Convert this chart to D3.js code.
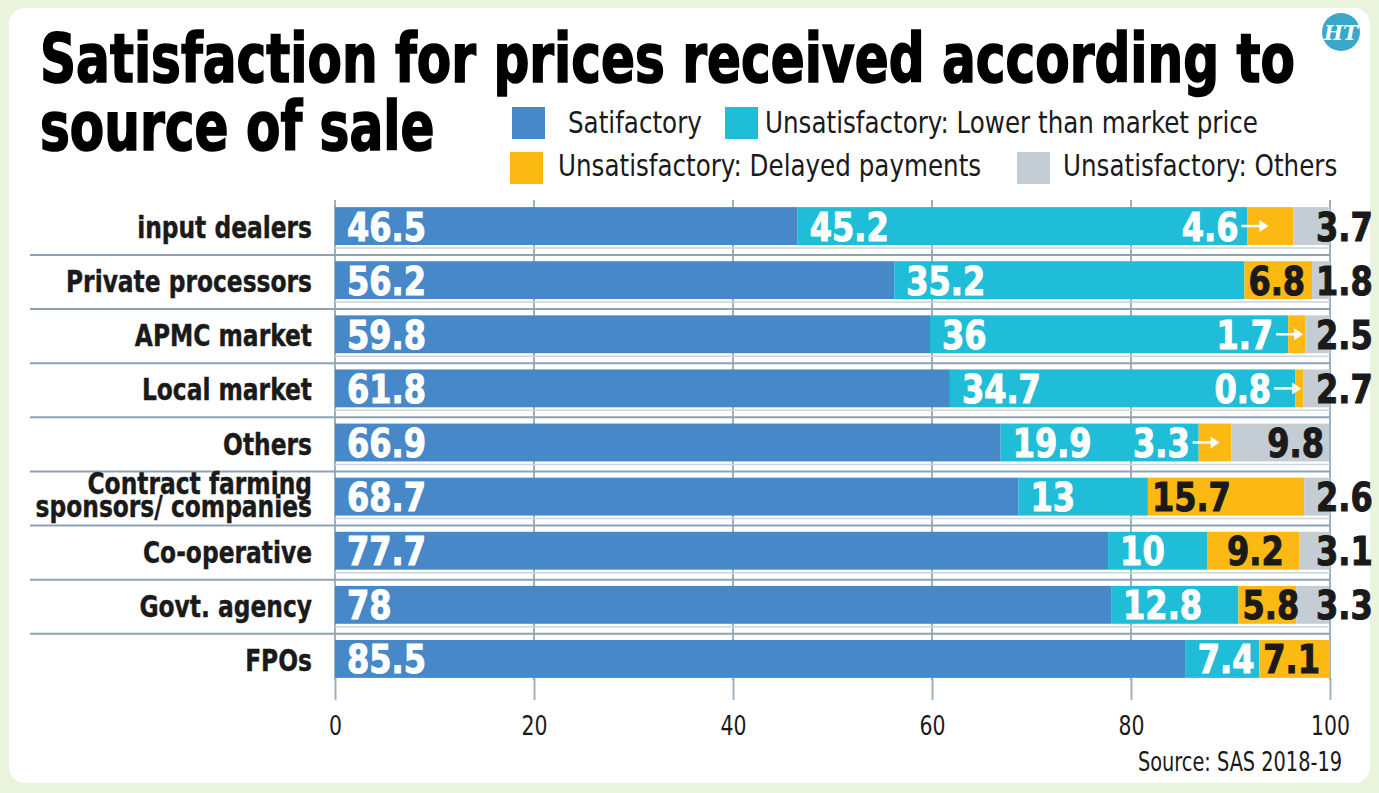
<!DOCTYPE html>
<html>
<head>
<meta charset="utf-8">
<script src="https://cdn.jsdelivr.net/npm/d3@7"></script>
<style>
  body { margin: 0; background: #eaf4dc; }
  text { font-family: 'DejaVu Sans Condensed', 'DejaVu Sans', sans-serif; }
</style>
</head>
<body>
<div id="chart"></div>
<script>
var categories = ["input dealers", "Private processors", "APMC market", "Local market", "Others",
  "Contract farming\nsponsors/ companies", "Co-operative", "Govt. agency", "FPOs"];
var satisfactory = [46.5, 56.2, 59.8, 61.8, 66.9, 68.7, 77.7, 78, 85.5];
var lowerPrice   = [45.2, 35.2, 36, 34.7, 19.9, 13, 10, 12.8, 7.4];
var delayedPay   = [4.6, 6.8, 1.7, 0.8, 3.3, 15.7, 9.2, 5.8, 7.1];
var otherReasons = [3.7, 1.8, 2.5, 2.7, 9.8, 2.6, 3.1, 3.3, 0];
var seriesNames  = ["Satifactory", "Unsatisfactory: Lower than market price",
  "Unsatisfactory: Delayed payments", "Unsatisfactory: Others"];
var xTicks = [0, 20, 40, 60, 80, 100];

var colors = ["#4688c8", "#1fbdd7", "#fdb913", "#c4cdd3"];
var keys = ["sat", "low", "del", "oth"];
var width = 1379, height = 793;

var rows = categories.map(function(c, i) {
  return { cat: c, sat: satisfactory[i], low: lowerPrice[i], del: delayedPay[i], oth: otherReasons[i] };
});

var svg = d3.select("#chart").append("svg")
    .attr("width", width)
    .attr("height", height);

svg.append("rect").attr("width", width).attr("height", height).attr("fill", "#eaf4dc");
svg.append("rect")
    .attr("x", 9).attr("y", 8)
    .attr("width", 1361).attr("height", 775)
    .attr("rx", 16)
    .attr("fill", "#fff");

var x = d3.scaleLinear().domain([0, 100]).range([335, 1330]);
var y = d3.scaleBand().domain(categories).range([199, 686]).paddingInner(0.3).paddingOuter(0.15);
var bw = y.bandwidth();

// squeeze a text selection horizontally by k (the original type is a narrow face)
function squeeze(sel, k) {
  sel.each(function() {
    var w = this.getComputedTextLength();
    d3.select(this).attr("textLength", w * k).attr("lengthAdjust", "spacingAndGlyphs");
  });
}
function ratio(node, target) { return target / node.getComputedTextLength(); }

// title
var title = svg.append("g").attr("class", "title")
    .style("font-weight", "bold").style("font-size", "68px")
    .attr("fill", "#000").attr("stroke", "#000").attr("stroke-width", 1.6);
var t1 = title.append("text").attr("x", 40).attr("y", 82).text("Satisfaction for prices received according to");
var t2 = title.append("text").attr("x", 40).attr("y", 150).text("source of sale");
var kTitle = ratio(t1.node(), 1255);
squeeze(title.selectAll("text"), kTitle);

// HT mark
svg.append("circle").attr("cx", 1341).attr("cy", 32).attr("r", 19).attr("fill", "#3aa8ca");
svg.append("text")
    .attr("x", 1341).attr("y", 40)
    .attr("text-anchor", "middle")
    .style("font-family", "'DejaVu Serif', serif")
    .style("font-weight", "bold").style("font-style", "italic")
    .style("font-size", "20px")
    .attr("fill", "#fff")
    .text("HT");

// legend
var legendPos = [
  { sx: 512, sy: 107, tx: 568, ty: 133 },
  { sx: 725, sy: 107, tx: 765, ty: 133 },
  { sx: 510, sy: 152, tx: 558, ty: 176 },
  { sx: 1017, sy: 152, tx: 1063, ty: 176 }
];
var legend = svg.append("g").attr("class", "legend").style("font-size", "31px");
legend.selectAll("rect").data(seriesNames).enter().append("rect")
    .attr("x", function(d, i) { return legendPos[i].sx; })
    .attr("y", function(d, i) { return legendPos[i].sy; })
    .attr("width", 33).attr("height", 32)
    .attr("fill", function(d, i) { return colors[i]; });
var legendText = legend.selectAll("text").data(seriesNames).enter().append("text")
    .attr("x", function(d, i) { return legendPos[i].tx; })
    .attr("y", function(d, i) { return legendPos[i].ty; })
    .attr("fill", "#1a1a1a")
    .text(function(d) { return d; });
squeeze(legendText, ratio(legendText.nodes()[1], 493));

// grid
svg.append("g").selectAll("line").data(xTicks).enter().append("line")
    .attr("x1", function(d) { return x(d); }).attr("x2", function(d) { return x(d); })
    .attr("y1", 200).attr("y2", 680)
    .attr("stroke", "#9fb0bc").attr("stroke-width", 2);

// row separators
var seps = svg.append("g");
seps.selectAll("line.light").data(categories.slice(0, -1)).enter().append("line")
    .attr("class", "light")
    .attr("x1", x(0)).attr("x2", x(100))
    .attr("y1", function(d) { return y(d) + bw + 3; })
    .attr("y2", function(d) { return y(d) + bw + 3; })
    .attr("stroke", "#c9d4db").attr("stroke-width", 1.5);
seps.selectAll("line.dark").data(categories.slice(0, -1)).enter().append("line")
    .attr("class", "dark")
    .attr("x1", 30).attr("x2", x(100))
    .attr("y1", function(d) { return y(d) + bw + 10; })
    .attr("y2", function(d) { return y(d) + bw + 10; })
    .attr("stroke", "#8ea3b1").attr("stroke-width", 2);

// bars
var stack = d3.stack().keys(keys)(rows);
var layer = svg.append("g").selectAll("g").data(stack).enter().append("g")
    .attr("fill", function(d, i) { return colors[i]; });
layer.selectAll("rect").data(function(d) { return d; }).enter().append("rect")
    .attr("x", function(d) { return x(d[0]); })
    .attr("y", function(d) { return y(d.data.cat); })
    .attr("width", function(d) { return Math.max(0, x(d[1]) - x(d[0])); })
    .attr("height", bw);

// value labels
var labels = svg.append("g").style("font-weight", "bold").style("font-size", "39px");
var kNum;
// calibrate on "56.2" (about 79px wide in the graphic)
(function() {
  var probe = labels.append("text").text("56.2");
  kNum = ratio(probe.node(), 79);
  probe.remove();
})();
function numLabel(xp, yp, txt, fill, anchor) {
  var t = labels.append("text")
      .attr("x", xp).attr("y", yp)
      .attr("fill", fill)
      .attr("stroke", fill).attr("stroke-width", 1)
      .attr("text-anchor", anchor || "start")
      .text(txt);
  squeeze(t, kNum);
  return t;
}

stack.forEach(function(series, si) {
  series.forEach(function(d) {
    var v = d[1] - d[0];
    if (v <= 0) return;
    var x0 = x(d[0]), x1 = x(d[1]);
    var yb = y(d.data.cat) + bw / 2 + 14.5;
    var txt = String(d.data[keys[si]]);
    if (si < 2) {
      numLabel(x0 + 12, yb, txt, "#fff");
    } else if (si === 2) {
      if (v < 5) {
        var end = Math.min(x0 + 21, x1 - 2), start = end - 27, ay = y(d.data.cat) + bw / 2;
        labels.append("line")
            .attr("x1", start).attr("x2", end - 7)
            .attr("y1", ay).attr("y2", ay)
            .attr("stroke", "#fff").attr("stroke-width", 2.5);
        labels.append("path")
            .attr("d", "M" + end + "," + ay + "L" + (end - 9) + "," + (ay - 6) + "L" + (end - 9) + "," + (ay + 6) + "Z")
            .attr("fill", "#fff");
        numLabel(start - 3, yb, txt, "#fff", "end");
      } else {
        var tl = numLabel(x0 + 4, yb, txt, "#1a1a1a");
        var tw = tl.node().getComputedTextLength();
        // mid-width segments carry their label nearer the middle
        if (x1 - x0 > tw + 30 && x1 - x0 < tw + 60) tl.attr("x", (x0 + x1) / 2 + 2).attr("text-anchor", "middle");
      }
    } else {
      var t = numLabel(0, yb, txt, "#1a1a1a");
      var w = t.node().getComputedTextLength();
      if (x1 - x0 > w + 12) t.attr("x", x1 - 5).attr("text-anchor", "end");
      else t.attr("x", x(100) - 14);
    }
  });
});

// category labels
var cat = svg.append("g").style("font-weight", "bold").style("font-size", "30px")
    .attr("fill", "#1a1a1a").attr("stroke", "#1a1a1a").attr("stroke-width", 0.4);
var catText = cat.selectAll("text").data(categories).enter().append("text")
    .attr("text-anchor", "end")
    .attr("x", 312)
    .attr("y", function(d) { return y(d) + bw / 2 + 12; });
catText.each(function(d) {
  var lines = d.split("\n"), el = d3.select(this);
  if (lines.length === 1) { el.text(d); return; }
  el.attr("y", null);
  lines.forEach(function(l, j) {
    el.append("tspan").attr("x", 312).attr("y", y(d) + bw / 2 - 3 + j * 23).text(l);
  });
});
var kCat = ratio(catText.nodes()[1], 246);
catText.each(function() {
  var el = d3.select(this);
  if (el.selectAll("tspan").empty()) squeeze(el, kCat);
  else squeeze(el.selectAll("tspan"), kCat);
});

// x axis
var xAxis = d3.axisBottom(x).tickValues(xTicks).tickSize(22).tickPadding(16);
var gx = svg.append("g")
    .attr("transform", "translate(0," + (y(categories[categories.length - 1]) + bw) + ")")
    .call(xAxis);
gx.select(".domain").remove();
gx.selectAll(".tick line").attr("stroke", "#9fb0bc").attr("stroke-width", 2);
gx.selectAll(".tick text")
    .attr("fill", "#1a1a1a")
    .style("font-size", "27px")
    .style("font-family", "'DejaVu Sans Condensed', 'DejaVu Sans', sans-serif");
var tickNodes = gx.selectAll(".tick text").nodes();
squeeze(gx.selectAll(".tick text"), ratio(tickNodes[tickNodes.length - 1], 39));

// source
var src = svg.append("text")
    .attr("x", 1342).attr("y", 771)
    .attr("text-anchor", "end")
    .style("font-size", "27px")
    .attr("fill", "#1a1a1a")
    .text("Source: SAS 2018-19");
squeeze(src, ratio(src.node(), 204));
</script>
</body>
</html>
